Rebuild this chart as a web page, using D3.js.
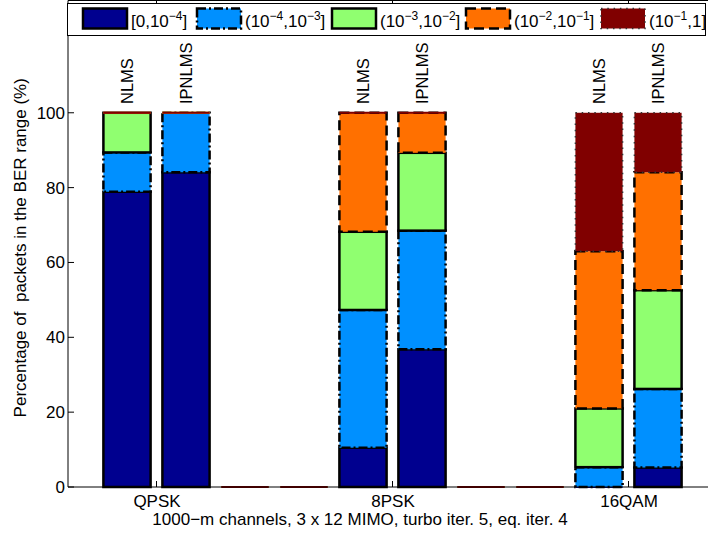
<!DOCTYPE html>
<html>
<head>
<meta charset="utf-8">
<script src="https://cdn.jsdelivr.net/npm/d3@7/dist/d3.min.js"></script>
<style>
  html, body { margin: 0; padding: 0; background: #fff; }
  svg { display: block; font-family: "Liberation Sans", Arial, Helvetica, sans-serif; }
</style>
</head>
<body>
<svg id="chart" width="708" height="535"></svg>
<script>
// ---------- data ----------
const barPositions = [1, 2, 3, 4, 5, 6, 7, 8, 9, 10];
const barLabels = ["NLMS", "IPNLMS", "", "", "NLMS", "IPNLMS", "", "", "NLMS", "IPNLMS"];
const categories = ["QPSK", "8PSK", "16QAM"];
const categoryPositions = [1.5, 5.5, 9.5];
const yTicks = [0, 20, 40, 60, 80, 100];
const rangeLabels = ["[0,10^{−4}]", "(10^{−4},10^{−3}]", "(10^{−3},10^{−2}]", "(10^{−2},10^{−1}]", "(10^{−1},1]"];
const seriesBer0 = [78.9, 84.1, 0, 0, 10.5, 36.8, 0, 0, 0, 5.2];
const seriesBer1 = [10.5, 15.9, 0, 0, 36.8, 31.7, 0, 0, 5.3, 21.0];
const seriesBer2 = [10.6, 0, 0, 0, 20.9, 20.8, 0, 0, 15.7, 26.4];
const seriesBer3 = [0, 0, 0, 0, 31.8, 10.7, 0, 0, 42.0, 31.5];
const seriesBer4 = [0, 0, 0, 0, 0, 0, 0, 0, 37.0, 15.9];
const xLabel = "1000−m channels, 3 x 12 MIMO, turbo iter. 5, eq. iter. 4";
const yLabel = "Percentage of  packets in the BER range (%)";

// ---------- styles ----------
const fills = ["#00008F", "#0090FF", "#90FF70", "#FF7000", "#800000"];
const dashes = [null, "9,3,2,3", null, "10,5", "1.5,4.8"];
const strokeW = [2.5, 2.5, 2.5, 2.5, 1.5];
const strokeC = ["#000", "#000", "#000", "#000", "#333"];
const FS = 17;

const svg = d3.select("#chart");
const W = 708, H = 535;
const x = d3.scaleLinear().domain([0, 11]).range([68, 717]);
const y = d3.scaleLinear().domain([0, 130]).range([487, 0.5]);
const barW = (x(1) - x(0)) * 0.8;

const keys = ["s0", "s1", "s2", "s3", "s4"];
const allSeries = [seriesBer0, seriesBer1, seriesBer2, seriesBer3, seriesBer4];
const table = barPositions.map((p, i) => {
  const row = { pos: p };
  keys.forEach((k, j) => row[k] = allSeries[j][i]);
  return row;
});
const stacked = d3.stack().keys(keys)(table);

const barsG = svg.append("g");
stacked.forEach((layer, j) => {
  const g = barsG.append("g");
  layer.forEach(d => {
    const x0 = x(d.data.pos) - barW / 2;
    const yTop = y(d[1]), yBot = y(d[0]);
    if (d[1] - d[0] <= 0) {
      g.append("line")
        .attr("x1", x0).attr("x2", x0 + barW)
        .attr("y1", yTop).attr("y2", yTop)
        .attr("stroke", fills[j]).attr("stroke-width", 2);
      return;
    }
    g.append("rect")
      .attr("x", x0).attr("y", yTop)
      .attr("width", barW).attr("height", yBot - yTop)
      .attr("fill", fills[j])
      .attr("stroke", strokeC[j])
      .attr("stroke-width", strokeW[j])
      .attr("stroke-dasharray", dashes[j]);
  });
});

// ---------- axes ----------
const axisG = svg.append("g");
axisG.append("line").attr("x1", x(0)).attr("x2", W).attr("y1", y(0)).attr("y2", y(0))
  .attr("stroke", "#000").attr("stroke-width", 1);
axisG.append("line").attr("x1", x(0)).attr("x2", x(0)).attr("y1", y(0)).attr("y2", y(130))
  .attr("stroke", "#000").attr("stroke-width", 1);
axisG.append("line").attr("x1", x(0)).attr("x2", W).attr("y1", y(130)).attr("y2", y(130))
  .attr("stroke", "#000").attr("stroke-width", 1);

const yAxis = d3.axisLeft(y).tickValues(yTicks).tickSize(0).tickPadding(3).tickFormat(d3.format("d"));
const yg = svg.append("g").attr("transform", `translate(${x(0)},0)`).call(yAxis);
yg.select(".domain").remove();
yg.selectAll("text").attr("font-size", FS).attr("font-family", "Liberation Sans, Arial, sans-serif").attr("fill", "#000");
yTicks.forEach(t => {
  axisG.append("line").attr("x1", x(0)).attr("x2", x(0) + 6).attr("y1", y(t)).attr("y2", y(t))
    .attr("stroke", "#000").attr("stroke-width", 1);
});

const xAxis = d3.axisBottom(x).tickValues(categoryPositions).tickSize(0).tickPadding(8)
  .tickFormat((d, i) => categories[i]);
const xg = svg.append("g").attr("transform", `translate(0,${y(0)})`).call(xAxis);
xg.select(".domain").remove();
xg.selectAll("text").attr("font-size", FS).attr("font-family", "Liberation Sans, Arial, sans-serif").attr("fill", "#000");
categoryPositions.forEach(p => {
  axisG.append("line").attr("x1", x(p)).attr("x2", x(p)).attr("y1", y(0)).attr("y2", y(0) - 6)
    .attr("stroke", "#000").attr("stroke-width", 1);
  axisG.append("line").attr("x1", x(p)).attr("x2", x(p)).attr("y1", y(130)).attr("y2", y(130) + 6)
    .attr("stroke", "#000").attr("stroke-width", 1);
});

// bar labels
barPositions.forEach((p, i) => {
  if (!barLabels[i]) return;
  svg.append("text")
    .attr("transform", `translate(${x(p)},104) rotate(-90)`)
    .attr("dy", "0.36em")
    .attr("text-anchor", "start")
    .attr("font-size", 16.5)
    .text(barLabels[i]);
});

// axis titles
svg.append("text").attr("x", 360).attr("y", 525).attr("text-anchor", "middle")
  .attr("font-size", FS).text(xLabel);
svg.append("text").attr("transform", `translate(26,${(y(0) + y(130)) / 2 + 4}) rotate(-90)`)
  .attr("text-anchor", "middle").attr("font-size", FS).style("white-space", "pre").text(yLabel);

// ---------- legend ----------
const leg = svg.append("g");
leg.append("rect").attr("x", 67.5).attr("y", 3.5).attr("width", 638).attr("height", 32)
  .attr("fill", "#fff").attr("stroke", "#000").attr("stroke-width", 1);
const swatchX = [83, 197, 332, 466, 601];
rangeLabels.forEach((lab, j) => {
  leg.append("rect").attr("x", swatchX[j]).attr("y", 8.5).attr("width", 44).attr("height", 20)
    .attr("fill", fills[j]).attr("stroke", strokeC[j]).attr("stroke-width", strokeW[j])
    .attr("stroke-dasharray", dashes[j]);
  const t = leg.append("text").attr("x", swatchX[j] + 48).attr("y", 27).attr("font-size", FS);
  const parts = lab.split(/\^\{([^}]*)\}/);
  let pendingDy = 0;
  parts.forEach((s, k) => {
    if (k % 2 === 1) {
      t.append("tspan").attr("font-size", 12).attr("dy", -7 + pendingDy).text(s);
      pendingDy = 7;
    } else if (s) {
      t.append("tspan").attr("dy", pendingDy).text(s);
      pendingDy = 0;
    }
  });
});
</script>
</body>
</html>
